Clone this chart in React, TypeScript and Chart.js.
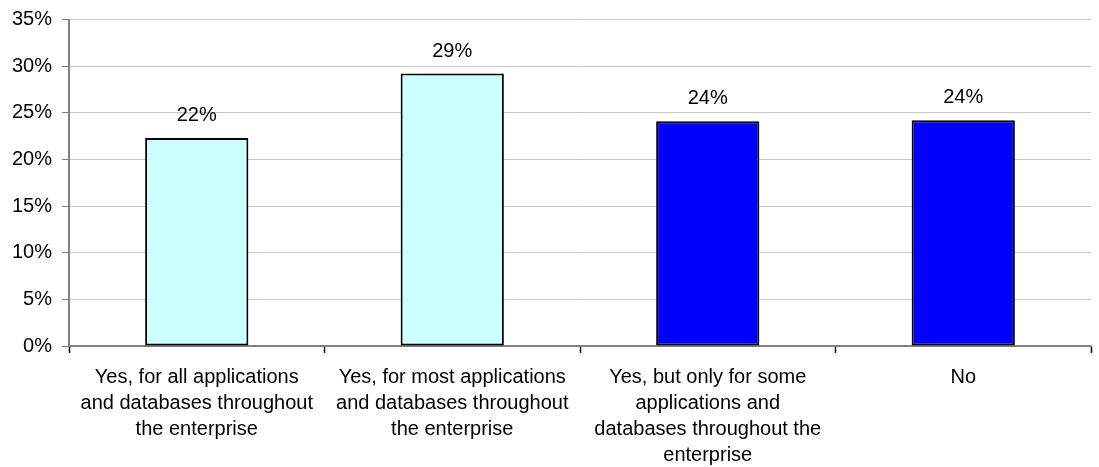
import React, { useEffect, useRef } from "react";
import { Chart, registerables } from "chart.js";

Chart.register(...registerables);

const categories: string[][] = [
  ["Yes, for all applications", "and databases throughout", "the enterprise"],
  ["Yes, for most applications", "and databases throughout", "the enterprise"],
  ["Yes, but only for some", "applications and", "databases throughout the", "enterprise"],
  ["No"],
];
const values: number[] = [22.3, 29.2, 24.1, 24.2];
const valueLabels: string[] = ["22%", "29%", "24%", "24%"];
const barColors: string[] = ["#CCFFFF", "#CCFFFF", "#0000FF", "#0000FF"];
const yMax = 35;
const yStep = 5;

const FONT = "'Liberation Sans', Arial, sans-serif";

const valueLabelPlugin = {
  id: "valueLabels",
  afterDatasetsDraw(chart: any) {
    const ctx = chart.ctx;
    const meta = chart.getDatasetMeta(0);
    ctx.save();
    ctx.font = `20px ${FONT}`;
    ctx.fillStyle = "#000";
    ctx.textAlign = "center";
    ctx.textBaseline = "alphabetic";
    meta.data.forEach((bar: any, i: number) => {
      ctx.fillText(valueLabels[i], bar.x, bar.y - 17);
    });
    ctx.restore();
  },
};

export default function App() {
  const ref = useRef<HTMLCanvasElement>(null);
  useEffect(() => {
    if (!ref.current) return;
    const chart = new Chart(ref.current, {
      type: "bar",
      data: {
        labels: categories,
        datasets: [
          {
            data: values,
            backgroundColor: barColors,
            borderColor: "#000000",
            borderWidth: 2,
            borderSkipped: false,
            categoryPercentage: 1,
            barPercentage: 0.404,
          },
        ],
      },
      options: {
        animation: false,
        responsive: false,
        maintainAspectRatio: false,
        layout: { padding: { top: 19.5, right: 8, bottom: 0, left: 0 } },
        plugins: {
          legend: { display: false },
          tooltip: { enabled: false },
        },
        scales: {
          x: {
            grid: {
              offset: true,
              drawOnChartArea: false,
              drawTicks: true,
              tickLength: 7,
              tickColor: "#000000",
              tickWidth: 1.5,
            },
            border: { color: "#808080", width: 2 },
            ticks: {
              autoSkip: false,
              maxRotation: 0,
              minRotation: 0,
              padding: 11,
              color: "#000000",
              font: { family: FONT, size: 20, lineHeight: 1.3 },
            },
            afterFit(scale: any) {
              scale.height = 121;
            },
          },
          y: {
            min: 0,
            max: yMax,
            grid: {
              color: "#C8C8C8",
              lineWidth: 1,
              drawTicks: true,
              tickLength: 7,
              tickColor: "#808080",
            },
            border: { color: "#808080", width: 2 },
            ticks: {
              stepSize: yStep,
              padding: 10,
              color: "#000000",
              font: { family: FONT, size: 20, lineHeight: 0.8 },
              callback: (v: any) => `${v}%`,
            },
            afterFit(scale: any) {
              scale.width = 69;
            },
          },
        },
      },
      plugins: [valueLabelPlugin],
    });
    return () => chart.destroy();
  }, []);
  return (
    <div style={{ position: "absolute", left: 0, top: 0, width: 1099, height: 467, background: "#fff" }}>
      <canvas ref={ref} width={1099} height={467} style={{ width: 1099, height: 467 }} />
    </div>
  );
}
